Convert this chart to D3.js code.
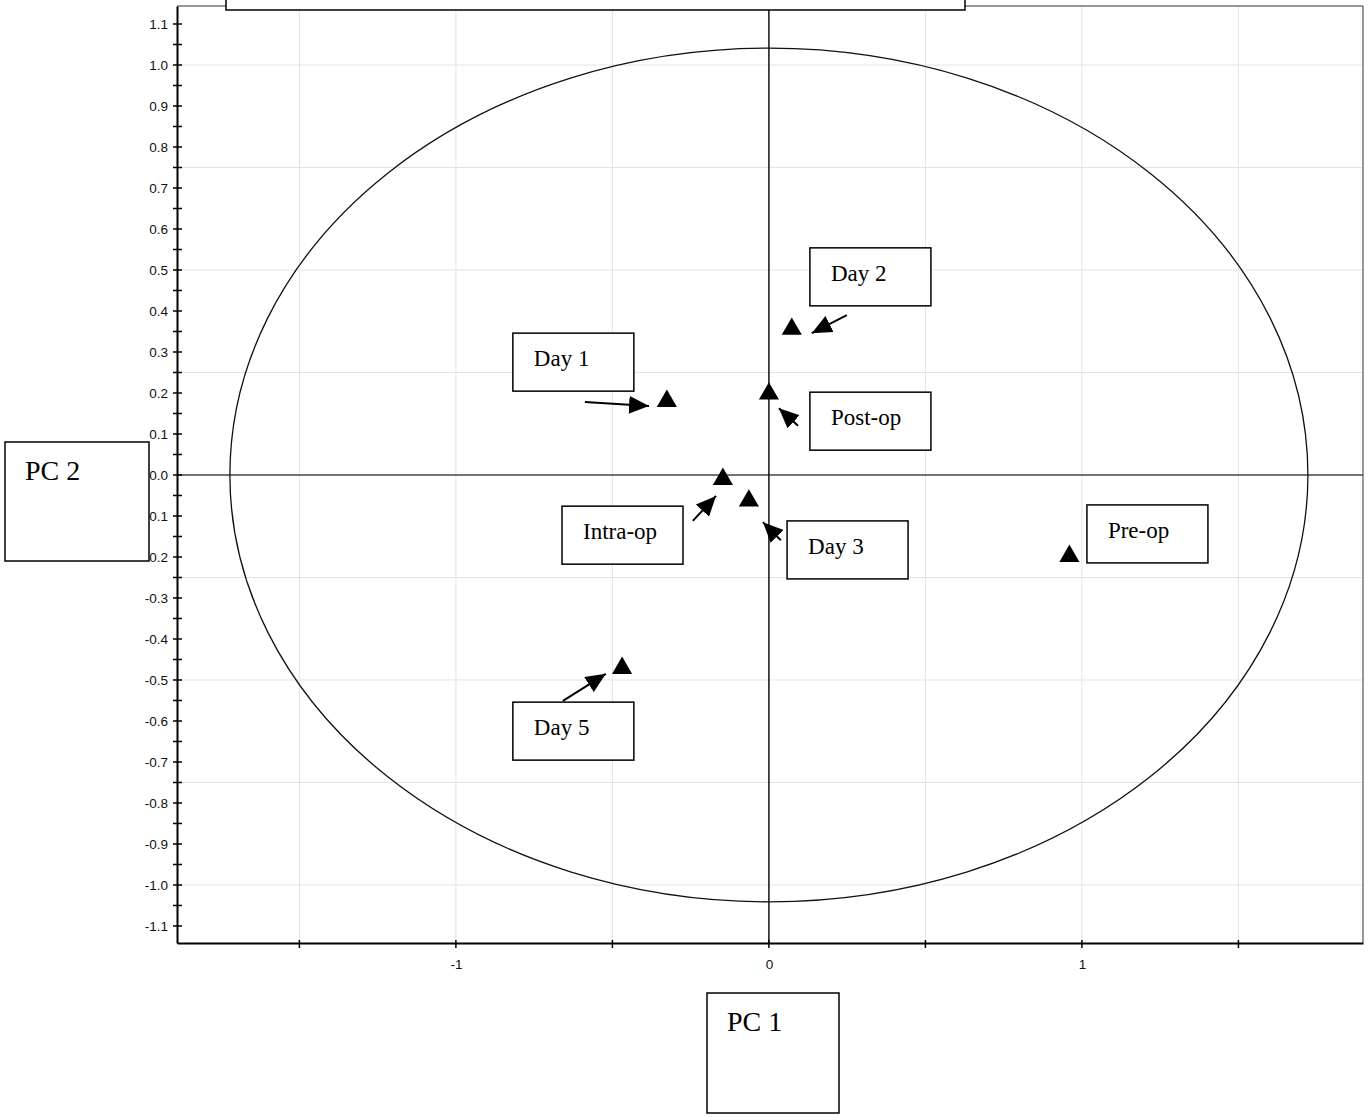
<!DOCTYPE html>
<html><head><meta charset="utf-8">
<script src="https://cdn.jsdelivr.net/npm/d3@7/dist/d3.min.js"></script>
<style>body{margin:0;background:#fff}svg{display:block}</style>
</head><body><div id="chart"></div>
<script>
// ---- data ----
const samples = ["Pre-op", "Intra-op", "Post-op", "Day 1", "Day 2", "Day 3", "Day 5"];
const pc1 = [0.96, -0.147, 0.0, -0.326, 0.073, -0.064, -0.469];
const pc2 = [-0.198, -0.010, 0.198, 0.180, 0.356, -0.063, -0.471];
// label box anchors (top-left) in data units
const labelX = [1.016, -0.661, 0.131, -0.818, 0.131, 0.058, -0.818];
const labelY = [-0.073, -0.076, 0.202, 0.346, 0.554, -0.112, -0.554];
// arrows: tail -> tip in data units (null = no arrow)
const arrowTail = [null, [-0.243, -0.112], [0.093, 0.120], [-0.588, 0.178], [0.249, 0.390], [0.038, -0.159], [-0.658, -0.551]];
const arrowTip  = [null, [-0.169, -0.051], [0.032, 0.163], [-0.383, 0.168], [0.137, 0.346], [-0.019, -0.115], [-0.521, -0.485]];
const yTicks = [1.1,1.0,0.9,0.8,0.7,0.6,0.5,0.4,0.3,0.2,0.1,0.0,-0.1,-0.2,-0.3,-0.4,-0.5,-0.6,-0.7,-0.8,-0.9,-1.0,-1.1];
const yTickLabels = ["1.1","1.0","0.9","0.8","0.7","0.6","0.5","0.4","0.3","0.2","0.1","0.0","-0.1","-0.2","-0.3","-0.4","-0.5","-0.6","-0.7","-0.8","-0.9","-1.0","-1.1"];
const xTicks = [-1.5, -1, -0.5, 0, 0.5, 1, 1.5];
const xTickLabels = ["", "-1", "", "0", "", "1", ""];
const xGrid = [-1.5, -1, -0.5, 0.5, 1, 1.5];
const yGrid = [1.0, 0.75, 0.5, 0.25, -0.25, -0.5, -0.75, -1.0];
const ellipseR = [1.722, 1.041]; // confidence ellipse radii (PC1, PC2)

// ---- layout ----
const W = 1370, H = 1120;
const L = 177, R = 1363, T = 6, B = 943;
const x = d3.scaleLinear().domain([-1.891, 1.898]).range([L, R]);
const y = d3.scaleLinear().domain([-1.1415, 1.1439]).range([B, T]);

const svg = d3.select("#chart").append("svg").attr("width", W).attr("height", H);

// grid
svg.append("g").selectAll("line").data(xGrid).join("line")
  .attr("x1", d => x(d)).attr("x2", d => x(d)).attr("y1", T).attr("y2", B)
  .attr("stroke", "#e4e4e4").attr("stroke-width", 1);
svg.append("g").selectAll("line").data(yGrid).join("line")
  .attr("y1", d => y(d)).attr("y2", d => y(d)).attr("x1", L).attr("x2", R)
  .attr("stroke", "#e4e4e4").attr("stroke-width", 1);

// frame top/right
svg.append("path").attr("d", `M${L},${T}H${R}V${B}`).attr("fill", "none").attr("stroke", "#333").attr("stroke-width", 1);

// zero lines
svg.append("line").attr("x1", L).attr("x2", R).attr("y1", y(0)).attr("y2", y(0)).attr("stroke", "#444").attr("stroke-width", 1.5);
svg.append("line").attr("x1", x(0)).attr("x2", x(0)).attr("y1", T).attr("y2", B).attr("stroke", "#111").attr("stroke-width", 1.5);

// ellipse
svg.append("ellipse").attr("cx", x(0)).attr("cy", y(0))
  .attr("rx", x(ellipseR[0]) - x(0)).attr("ry", y(0) - y(ellipseR[1]))
  .attr("fill", "none").attr("stroke", "#111").attr("stroke-width", 1.3);

// y axis
const yAxis = d3.axisLeft(y).tickValues(yTicks).tickSize(0).tickPadding(9)
  .tickFormat((d, i) => yTickLabels[i]);
const gy = svg.append("g").attr("transform", `translate(${L},0)`).call(yAxis);
gy.attr("font-size", 13.5).attr("font-family", "Liberation Sans, Arial, sans-serif");
gy.select(".domain").attr("stroke", "#000").attr("stroke-width", 2);
gy.selectAll("text").attr("font-family", "Liberation Sans, Arial, sans-serif").attr("font-size", 13.5).attr("fill", "#111");
// cross ticks (major + minor)
const allYTicks = d3.range(-22, 23).map(k => k * 0.05);
svg.append("g").selectAll("line").data(allYTicks).join("line")
  .attr("x1", L - 4).attr("x2", L + 5).attr("y1", d => y(d)).attr("y2", d => y(d))
  .attr("stroke", "#000").attr("stroke-width", 1.5);

// x axis
const xAxis = d3.axisBottom(x).tickValues(xTicks).tickSize(0).tickPadding(16)
  .tickFormat((d, i) => xTickLabels[i]);
const gx = svg.append("g").attr("transform", `translate(0,${B})`).call(xAxis);
gx.attr("font-size", 13.5).attr("font-family", "Liberation Sans, Arial, sans-serif");
gx.select(".domain").attr("stroke", "#000").attr("stroke-width", 2);
gx.selectAll("text").attr("font-family", "Liberation Sans, Arial, sans-serif").attr("font-size", 13.5).attr("fill", "#111");
svg.append("g").selectAll("line").data(xTicks).join("line")
  .attr("x1", d => x(d)).attr("x2", d => x(d)).attr("y1", B - 3).attr("y2", B + 5)
  .attr("stroke", "#000").attr("stroke-width", 1.5);

// arrow marker
svg.append("defs").append("marker").attr("id", "ah")
  .attr("viewBox", "0 0 20 18").attr("refX", 20).attr("refY", 9)
  .attr("markerWidth", 20).attr("markerHeight", 18).attr("markerUnits", "userSpaceOnUse")
  .attr("orient", "auto")
  .append("path").attr("d", "M0,0L20,9L0,18Z").attr("fill", "#000");

const idx = d3.range(samples.length);
svg.append("g").selectAll("line").data(idx.filter(i => arrowTail[i])).join("line")
  .attr("x1", i => x(arrowTail[i][0])).attr("y1", i => y(arrowTail[i][1]))
  .attr("x2", i => x(arrowTip[i][0])).attr("y2", i => y(arrowTip[i][1]))
  .attr("stroke", "#000").attr("stroke-width", 2).attr("marker-end", "url(#ah)");

// points
svg.append("g").selectAll("path").data(idx).join("path")
  .attr("transform", i => `translate(${x(pc1[i])},${y(pc2[i])})`)
  .attr("d", d3.symbol(d3.symbolTriangle, 175))
  .attr("fill", "#000");

// label boxes
const lb = svg.append("g").selectAll("g").data(idx).join("g")
  .attr("transform", i => `translate(${x(labelX[i])},${y(labelY[i])})`);
lb.append("rect").attr("width", 121).attr("height", 58).attr("fill", "#fff").attr("stroke", "#000").attr("stroke-width", 1.5);
lb.append("text").attr("x", 21).attr("y", 33).text(i => samples[i])
  .attr("font-family", "Liberation Serif, Times New Roman, serif").attr("font-size", 23).attr("fill", "#000");

// axis title boxes
function titleBox(x0, y0, w, h, txt, tx, ty) {
  svg.append("rect").attr("x", x0).attr("y", y0).attr("width", w).attr("height", h)
    .attr("fill", "#fff").attr("stroke", "#000").attr("stroke-width", 1.5);
  if (txt) svg.append("text").attr("x", x0 + tx).attr("y", y0 + ty).text(txt)
    .attr("font-family", "Liberation Serif, Times New Roman, serif").attr("font-size", 28).attr("fill", "#000");
}
titleBox(5, 442, 144, 119, "PC 2", 20, 38);
titleBox(707, 993, 132, 120, "PC 1", 20, 38);
titleBox(226, -60, 739, 70, "", 0, 0);
</script></body></html>
